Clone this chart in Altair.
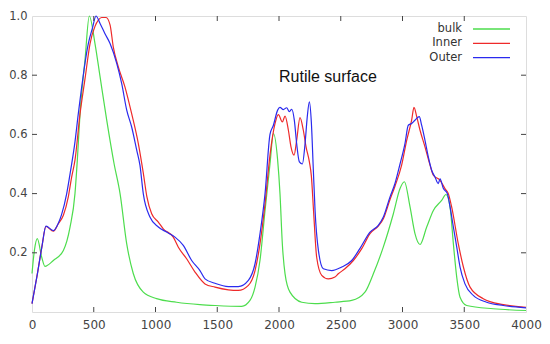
import altair as alt
import pandas as pd

SERIES = ["bulk", "Inner", "Outer"]
COLORS = ["#4ddd4d", "#ee2a2a", "#2a2aee"]

BULK_X = [0, 20, 43, 78, 105, 173, 254, 308, 348, 367, 389, 429, 464, 510, 551, 605, 665, 713, 767, 820,
          901, 1009, 1171, 1360, 1482, 1698, 1765, 1806, 1846, 1887, 1927, 1955, 1989, 2008, 2027, 2049,
          2089, 2184, 2292, 2453, 2589, 2696, 2764, 2845, 2926, 2980, 3015, 3061, 3101, 3142, 3196, 3250,
          3317, 3352, 3385, 3412, 3439, 3466, 3520, 3735, 4000]
BULK_Y = [0.13, 0.21, 0.248, 0.186, 0.154, 0.174, 0.208, 0.287, 0.40, 0.513, 0.671, 0.851, 1.0, 0.907,
          0.795, 0.648, 0.50, 0.40, 0.23, 0.13, 0.067, 0.045, 0.033, 0.025, 0.022, 0.019, 0.039, 0.084,
          0.174, 0.343, 0.50, 0.603, 0.513, 0.40, 0.23, 0.129, 0.067, 0.033, 0.028, 0.033, 0.039, 0.067,
          0.129, 0.22, 0.332, 0.417, 0.44, 0.355, 0.265, 0.228, 0.287, 0.343, 0.377, 0.397, 0.355, 0.23,
          0.118, 0.05, 0.022, 0.011, 0.005]

INNER_X = [0, 40, 80, 113, 173, 213, 254, 294, 321, 348, 389, 430, 470, 510, 537, 564, 600, 632, 658,
           699, 753, 807, 861, 901, 930, 969, 1023, 1063, 1144, 1185, 1252, 1320, 1401, 1482, 1590, 1670,
           1752, 1806, 1846, 1887, 1927, 1968, 1995, 2027, 2049, 2076, 2097, 2122, 2143, 2170, 2197, 2219,
           2246, 2262, 2280, 2305, 2346, 2400, 2453, 2480, 2534, 2602, 2670, 2737, 2804, 2845, 2899, 2939,
           2993, 3034, 3074, 3093, 3115, 3142, 3182, 3223, 3250, 3304, 3344, 3371, 3398, 3452, 3493, 3547,
           3654, 3816, 4000]
INNER_Y = [0.028, 0.12, 0.22, 0.289, 0.273, 0.298, 0.327, 0.389, 0.456, 0.513, 0.67, 0.79, 0.907, 0.965,
           0.986, 0.995, 0.995, 0.97, 0.896, 0.828, 0.76, 0.67, 0.569, 0.47, 0.39, 0.332, 0.304, 0.281,
           0.253, 0.219, 0.18, 0.135, 0.095, 0.084, 0.075, 0.073, 0.09, 0.14, 0.23, 0.366, 0.53, 0.637,
           0.667, 0.642, 0.662, 0.614, 0.558, 0.53, 0.58, 0.657, 0.614, 0.558, 0.507, 0.46, 0.34, 0.185,
           0.124, 0.112, 0.118, 0.129, 0.146, 0.174, 0.214, 0.265, 0.29, 0.315, 0.38, 0.425, 0.496, 0.58,
           0.648, 0.691, 0.66, 0.614, 0.558, 0.496, 0.462, 0.445, 0.417, 0.40, 0.355, 0.23, 0.152, 0.084,
           0.045, 0.025, 0.016]

OUTER_X = [0, 40, 80, 113, 173, 213, 240, 281, 313, 348, 375, 456, 490, 518, 551, 591, 632, 686, 726,
           767, 807, 848, 874, 901, 955, 1023, 1090, 1158, 1225, 1293, 1360, 1401, 1482, 1590, 1670, 1752,
           1806, 1846, 1887, 1927, 1954, 1989, 2008, 2035, 2062, 2084, 2103, 2124, 2143, 2165, 2189, 2211,
           2229, 2246, 2262, 2278, 2292, 2319, 2359, 2427, 2508, 2589, 2656, 2737, 2804, 2845, 2899, 2939,
           2980, 3020, 3047, 3074, 3101, 3136, 3155, 3182, 3209, 3236, 3263, 3290, 3304, 3331, 3363, 3385,
           3412, 3439, 3466, 3506, 3573, 3681, 3816, 4000]
OUTER_Y = [0.028, 0.12, 0.22, 0.29, 0.275, 0.30, 0.33, 0.40, 0.479, 0.575, 0.67, 0.907, 0.96, 1.0, 0.975,
           0.94, 0.907, 0.84, 0.772, 0.682, 0.625, 0.547, 0.496, 0.40, 0.321, 0.287, 0.27, 0.253, 0.225,
           0.174, 0.14, 0.112, 0.097, 0.086, 0.086, 0.107, 0.163, 0.264, 0.40, 0.60, 0.63, 0.682, 0.691,
           0.684, 0.69, 0.677, 0.685, 0.648, 0.569, 0.507, 0.50, 0.569, 0.66, 0.71, 0.64, 0.48, 0.343,
           0.208, 0.146, 0.14, 0.152, 0.174, 0.215, 0.27, 0.293, 0.321, 0.389, 0.434, 0.50, 0.569, 0.631,
           0.637, 0.648, 0.66, 0.631, 0.58, 0.524, 0.479, 0.456, 0.434, 0.45, 0.417, 0.40, 0.355, 0.287,
           0.22, 0.152, 0.095, 0.056, 0.033, 0.022, 0.014]

X_TICKS = [0, 500, 1000, 1500, 2000, 2500, 3000, 3500, 4000]
Y_TICKS = [0.2, 0.4, 0.6, 0.8, 1.0]
ANNOTATION = "Rutile surface"
ANNOT_X = 2000
ANNOT_Y = 0.795

W, H = 494, 296
FONT = "DejaVu Sans"

xs = alt.Scale(domain=[0, 4000], nice=False, zero=False)
ys = alt.Scale(domain=[0, 1], nice=False, zero=False)

x_axis = alt.Axis(values=X_TICKS, format="d", title=None, grid=False, ticks=False, domain=False,
                  labelFont=FONT, labelFontSize=12, labelColor="#444444", labelPadding=7,
                  labelFlush=False, labelOverlap=False)
y_axis = alt.Axis(values=Y_TICKS, format=".1f", title=None, grid=False, ticks=False, domain=False,
                  labelFont=FONT, labelFontSize=11.5, labelColor="#444444", labelPadding=5,
                  labelFlush=False, labelOverlap=False)

series_data = {"bulk": (BULK_X, BULK_Y), "Inner": (INNER_X, INNER_Y), "Outer": (OUTER_X, OUTER_Y)}

layers = []
for i, name in enumerate(SERIES):
    sx, sy = series_data[name]
    df = pd.DataFrame({"x": sx, "y": sy, "series": name})
    layer = alt.Chart(df).mark_line(strokeWidth=1.2, color=COLORS[i], interpolate="monotone").encode(
        x=alt.X("x:Q", scale=xs, axis=x_axis),
        y=alt.Y("y:Q", scale=ys, axis=y_axis),
    )
    layers.append(layer)

# inward tick marks (bottom/top and left/right mirrored)
xt = pd.DataFrame({"x": X_TICKS[1:-1]})
yt = pd.DataFrame({"y": Y_TICKS[:-1]})
tick_color = "#444444"
layers.append(alt.Chart(xt).mark_rule(color=tick_color, strokeWidth=1).encode(
    x=alt.X("x:Q", scale=xs, axis=x_axis), y=alt.value(H), y2=alt.value(H - 5)))
layers.append(alt.Chart(xt).mark_rule(color=tick_color, strokeWidth=1).encode(
    x=alt.X("x:Q", scale=xs, axis=x_axis), y=alt.value(0), y2=alt.value(5)))
layers.append(alt.Chart(yt).mark_rule(color=tick_color, strokeWidth=1).encode(
    y=alt.Y("y:Q", scale=ys, axis=y_axis), x=alt.value(0), x2=alt.value(5)))
layers.append(alt.Chart(yt).mark_rule(color=tick_color, strokeWidth=1).encode(
    y=alt.Y("y:Q", scale=ys, axis=y_axis), x=alt.value(W), x2=alt.value(W - 5)))

# legend (label to the left of the line sample)
leg_y = [13, 27.3, 41.7]
for i, name in enumerate(SERIES):
    ldf = pd.DataFrame({"label": [name]})
    layers.append(alt.Chart(ldf).mark_text(align="right", baseline="middle", font=FONT,
                                           fontSize=11.5, color="#333333").encode(
        text="label:N", x=alt.value(430), y=alt.value(leg_y[i])))
    layers.append(alt.Chart(ldf).mark_rule(color=COLORS[i], strokeWidth=1.3).encode(
        x=alt.value(441), x2=alt.value(478), y=alt.value(leg_y[i])))

# annotation
adf = pd.DataFrame({"x": [ANNOT_X], "y": [ANNOT_Y], "t": [ANNOTATION]})
layers.append(alt.Chart(adf).mark_text(align="left", baseline="middle", font="Liberation Sans",
                                       fontSize=16, color="#111111").encode(
    x=alt.X("x:Q", scale=xs, axis=x_axis), y=alt.Y("y:Q", scale=ys, axis=y_axis), text="t:N"))

chart = alt.layer(*layers).properties(
    width=W, height=H,
    autosize=alt.AutoSizeParams(type="none"),
    padding={"left": 24, "top": 8, "right": 16, "bottom": 24},
).configure_view(stroke="#444444", strokeWidth=1).configure(background="white")

chart.save("out.html", embed_options={"renderer": "svg", "actions": False})
